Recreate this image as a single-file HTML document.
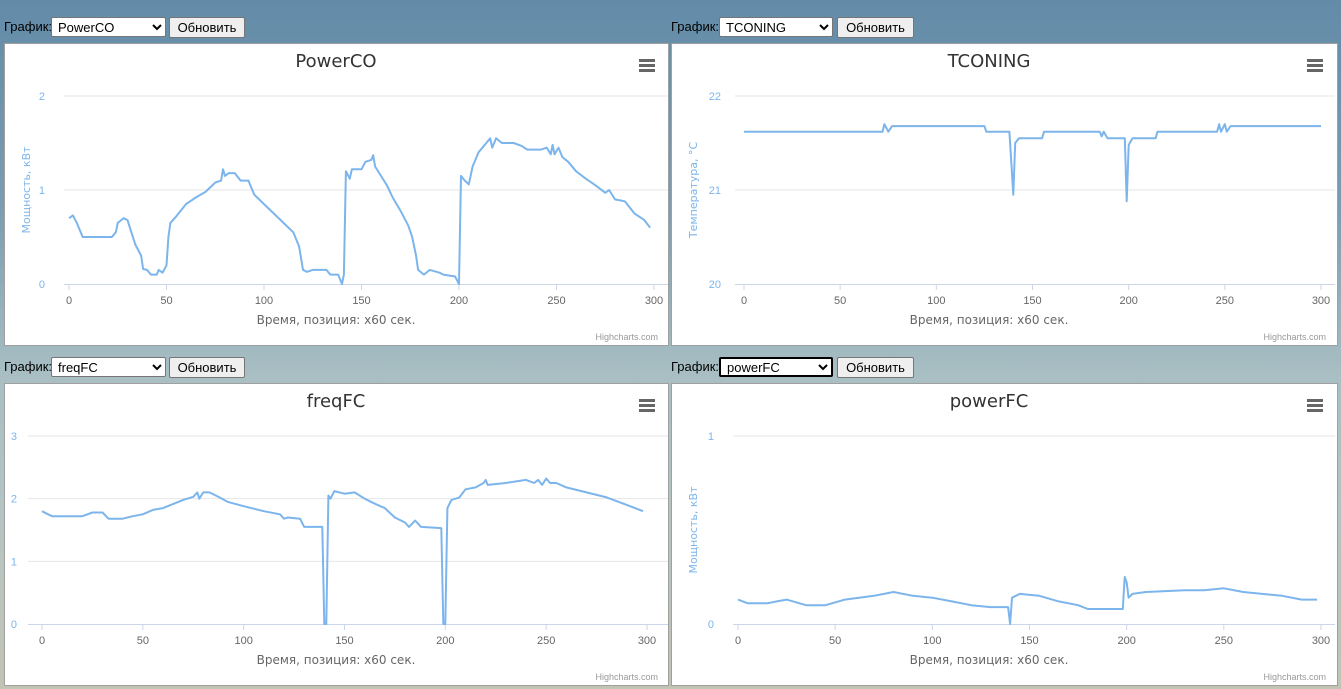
<!DOCTYPE html>
<html><head><meta charset="utf-8">
<style>
html,body{margin:0;padding:0}
body{width:1341px;height:689px;overflow:hidden;position:relative;font-family:"Liberation Sans",sans-serif;
background:linear-gradient(180deg,#638ba8 0%,#7a9db0 30%,#a9bfc3 55%,#b4c4c3 75%,#c2c3b3 100%);}
.lbl{position:absolute;font-size:13px;color:#000}
select{position:absolute;height:20px;font-size:13px;font-family:"Liberation Sans",sans-serif;background:#fff;border:1px solid #767676;border-radius:2px;padding:0 2px}
button{position:absolute;height:21px;font-size:13px;font-family:"Liberation Sans",sans-serif;background:#efefef;border:1px solid #767676;border-radius:2px;padding:0 6px}
.panel{position:absolute;background:#fff;border:1px solid #a0a0a0;box-sizing:border-box}
svg{position:absolute;left:0;top:0}
</style></head><body>
<span class="lbl" style="left:4px;top:19px">График:</span>
<select style="left:51px;top:17px;width:115px"><option>PowerCO</option></select>
<button style="left:169px;top:17px;width:76px">Обновить</button>
<span class="lbl" style="left:671px;top:19px">График:</span>
<select style="left:719px;top:17px;width:114px"><option>TCONING</option></select>
<button style="left:837px;top:17px;width:77px">Обновить</button>
<span class="lbl" style="left:4px;top:359px">График:</span>
<select style="left:51px;top:357px;width:115px"><option>freqFC</option></select>
<button style="left:169px;top:357px;width:76px">Обновить</button>
<span class="lbl" style="left:671px;top:359px">График:</span>
<select style="left:719px;top:357px;width:114px;border:2px solid #000"><option>powerFC</option></select>
<button style="left:837px;top:357px;width:77px">Обновить</button>

<div class="panel" style="left:4px;top:43px;width:665px;height:303px"></div>
<div class="panel" style="left:671px;top:43px;width:667px;height:303px"></div>
<div class="panel" style="left:4px;top:383px;width:665px;height:303px"></div>
<div class="panel" style="left:671px;top:383px;width:667px;height:303px"></div>

<svg id="s" width="1341" height="689"></svg>
<script>
const xTicks=[0,50,100,150,200,250,300];
const powerCOX=[0,2,4,6,7,22,24,25,28,30,32,34,37,38,40,42,45,46,48,50,51,52,55,60,65,70,75,78,79,80,82,85,88,92,95,100,105,110,115,118,120,122,125,132,134,138,140,141,142,144,145,150,152,155,156,157,160,163,166,170,174,176,178,179,182,185,190,192,198,200,201,203,205,207,210,212,214,216,217,219,222,228,232,235,242,245,247,248,249,251,253,256,260,265,270,275,277,280,285,290,295,298];
const powerCOY=[0.7,0.73,0.65,0.55,0.5,0.5,0.55,0.65,0.7,0.68,0.55,0.42,0.3,0.16,0.15,0.1,0.1,0.15,0.12,0.2,0.5,0.65,0.72,0.85,0.92,0.98,1.08,1.1,1.22,1.15,1.18,1.18,1.1,1.1,0.95,0.85,0.75,0.65,0.55,0.4,0.15,0.13,0.15,0.15,0.1,0.1,0.0,0.1,1.2,1.12,1.22,1.22,1.3,1.32,1.37,1.25,1.15,1.05,0.92,0.78,0.62,0.5,0.3,0.15,0.1,0.15,0.12,0.1,0.08,0.0,1.15,1.1,1.06,1.25,1.4,1.45,1.5,1.55,1.45,1.55,1.5,1.5,1.47,1.43,1.43,1.45,1.38,1.48,1.38,1.45,1.35,1.3,1.2,1.12,1.05,0.97,1.0,0.9,0.88,0.75,0.68,0.6];
const tconX=[0,72,73,75,77,125,126,138,140,141,143,155,156,185,186,187,189,198,199,200,202,214,215,246,247,248,250,251,253,300];
const tconY=[21.62,21.62,21.7,21.62,21.68,21.68,21.62,21.62,20.95,21.5,21.55,21.55,21.62,21.62,21.57,21.62,21.55,21.55,20.88,21.48,21.55,21.55,21.62,21.62,21.7,21.62,21.7,21.62,21.68,21.68];
const freqX=[0,3,5,10,20,25,30,33,40,45,50,55,60,70,75,77,78,80,83,88,92,100,110,118,120,122,128,130,139,140,141,142,143,145,150,155,160,165,170,175,180,182,185,188,198,199,200,201,203,207,210,215,219,220,221,230,240,244,246,248,250,252,255,260,270,280,290,298];
const freqY=[1.8,1.75,1.72,1.72,1.72,1.78,1.78,1.68,1.68,1.72,1.75,1.82,1.85,1.98,2.03,2.1,2.0,2.1,2.1,2.02,1.95,1.88,1.8,1.75,1.68,1.7,1.68,1.55,1.55,0,0,2.05,2.0,2.12,2.08,2.1,2.0,1.92,1.85,1.7,1.62,1.55,1.65,1.55,1.53,0,0,1.85,1.98,2.02,2.15,2.18,2.25,2.3,2.22,2.25,2.3,2.25,2.3,2.22,2.32,2.25,2.25,2.18,2.1,2.02,1.9,1.8];
const pfcX=[0,5,15,20,25,35,45,55,70,80,90,100,110,120,130,139,140,141,145,155,165,175,180,198,199,200,201,203,210,230,240,250,260,280,290,298];
const pfcY=[0.13,0.11,0.11,0.12,0.13,0.1,0.1,0.13,0.15,0.17,0.15,0.14,0.12,0.1,0.09,0.09,0.0,0.14,0.16,0.15,0.12,0.1,0.08,0.08,0.25,0.22,0.14,0.16,0.17,0.18,0.18,0.19,0.17,0.15,0.13,0.13];

const charts=[
 {name:'powerco',title:'PowerCO',ytitle:'Мощность, кВт',px0:69,px1:654,py0:284,py1:96,ymin:0,ymax:2,yTicks:[0,1,2],gx0:64,gx1:668,ylx:45,tx:336,ytx:30,xs:powerCOX,ys:powerCOY,menu:646,credit:658},
 {name:'tconing',title:'TCONING',ytitle:'Температура, °C',px0:744,px1:1321,py0:284,py1:96,ymin:20,ymax:22,yTicks:[20,21,22],gx0:735,gx1:1335,ylx:721,tx:989,ytx:697,xs:tconX,ys:tconY,menu:1314,credit:1326},
 {name:'freqfc',title:'freqFC',ytitle:'',px0:42,px1:647,py0:624,py1:436,ymin:0,ymax:3,yTicks:[0,1,2,3],gx0:28,gx1:668,ylx:17,tx:336,ytx:0,xs:freqX,ys:freqY,menu:646,credit:658},
 {name:'powerfc',title:'powerFC',ytitle:'Мощность, кВт',px0:738,px1:1321,py0:624,py1:436,ymin:0,ymax:1,yTicks:[0,1],gx0:733,gx1:1335,ylx:714,tx:989,ytx:697,xs:pfcX,ys:pfcY,menu:1314,credit:1326}
];
const svg=document.getElementById('s');
const NS='http://www.w3.org/2000/svg';
function mk(tag,attrs,txt){const e=document.createElementNS(NS,tag);for(const k in attrs)e.setAttribute(k,attrs[k]);if(txt!==undefined)e.textContent=txt;svg.appendChild(e);return e;}
charts.forEach(c=>{
 const X=v=>c.px0+(v/300)*(c.px1-c.px0);
 const Y=v=>c.py0-(v-c.ymin)/(c.ymax-c.ymin)*(c.py0-c.py1);
 c.yTicks.forEach(t=>{
  if(t!==c.ymin){const g=mk('line',{x1:c.gx0,x2:c.gx1,y1:Y(t),y2:Y(t),stroke:'#e6e6e6','stroke-width':1});
  
  }
  const l=mk('text',{x:c.ylx,y:Y(t)+4,'font-size':11,fill:'#7cb5ec','text-anchor':'end','font-family':'Liberation Sans'},String(t));
  
  
 });
 const ax=mk('line',{x1:c.gx0,x2:c.gx1,y1:c.py0+0.5,y2:c.py0+0.5,stroke:'#ccd6eb','stroke-width':1});
 
 
 xTicks.forEach(t=>{
  const tk=mk('line',{x1:X(t),x2:X(t),y1:c.py0,y2:c.py0+6,stroke:'#ccd6eb'});
  
  
  const l=mk('text',{x:X(t),y:c.py0+20,'font-size':11,fill:'#666','text-anchor':'middle','font-family':'Liberation Sans'},String(t));
  
  
 });
 let d='';c.xs.forEach((x,i)=>{d+=(i?'L':'M')+X(x).toFixed(1)+' '+Y(c.ys[i]).toFixed(1);});
 const p=mk('path',{d:d,fill:'none',stroke:'#7cb5ec','stroke-width':2,'stroke-linejoin':'round'});
 
 
 const t=mk('text',{x:c.tx,y:c.py1-29,'font-size':18,fill:'#333','text-anchor':'middle','font-family':'DejaVu Sans'},c.title);
 
 
 const xt=mk('text',{x:c.tx,y:c.py0+40,'font-size':12,fill:'#666','text-anchor':'middle','font-family':'DejaVu Sans'},'Время, позиция: x60 сек.');
 
 
 if(c.ytitle){const cy=(c.py0+c.py1)/2;
  const yt=mk('text',{x:c.ytx,y:cy,'font-size':11,fill:'#7cb5ec','text-anchor':'middle','font-family':'DejaVu Sans',transform:'rotate(-90 '+c.ytx+' '+cy+')'},c.ytitle);
  
  }
 const cr=mk('text',{x:c.credit,y:c.py0+56,'font-size':9,fill:'#999','text-anchor':'end','font-family':'Liberation Sans'},'Highcharts.com');
 
 
 [0,5,10].forEach(o=>{const m=mk('rect',{x:c.menu-7,y:c.py1-37+o,width:16,height:3,fill:'#666'});
  
  });
});
</script>
</body></html>
